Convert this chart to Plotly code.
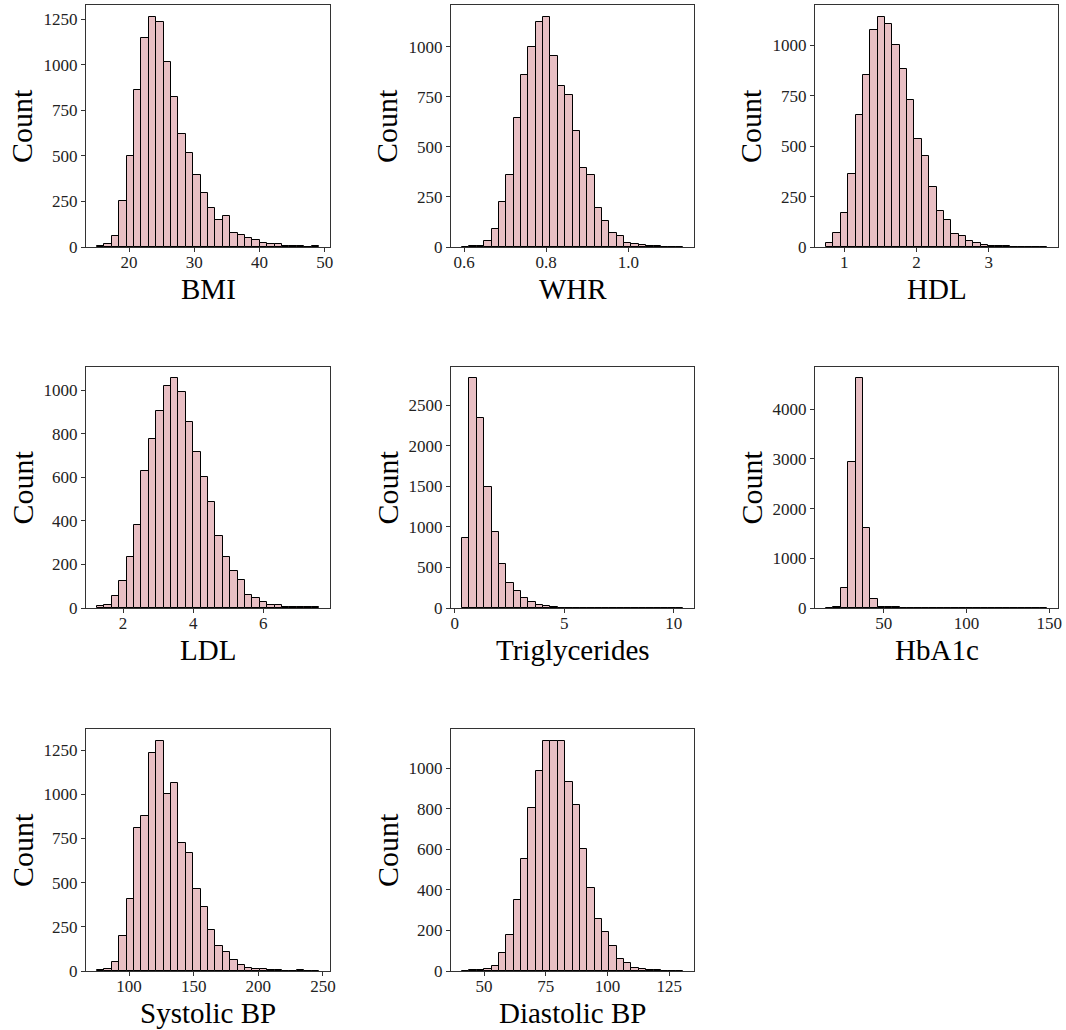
import plotly.graph_objects as go
import numpy as np

# ---- data: 30-bin histogram counts, with the bin range (lo, hi) for each variable ----
bmi_range = (15.1, 49.1)
bmi_counts = [4, 17, 60, 250, 500, 862, 1149, 1266, 1237, 1016, 822, 619, 518, 395, 294,
              213, 151, 171, 79, 68, 51, 37, 24, 15, 18, 7, 6, 4, 2, 3]

whr_range = (0.595, 1.133)
whr_counts = [2, 3, 7, 30, 92, 224, 360, 644, 856, 1000, 1124, 1150, 953, 804, 759,
              577, 393, 360, 197, 132, 72, 57, 20, 17, 12, 7, 3, 2, 2, 2]

hdl_range = (0.746, 3.808)
hdl_counts = [20, 71, 171, 360, 654, 855, 1078, 1144, 1106, 1003, 884, 732, 538, 450, 297,
              181, 133, 66, 56, 28, 20, 8, 6, 5, 3, 2, 2, 1, 2, 2]

ldl_range = (1.257, 7.59)
ldl_counts = [8, 14, 57, 123, 233, 380, 632, 778, 907, 1020, 1055, 993, 857, 719, 603,
              485, 331, 233, 172, 127, 61, 45, 29, 12, 15, 6, 5, 3, 3, 3]

tg_range = (0.334, 10.42)
tg_counts = [868, 2829, 2348, 1489, 942, 539, 308, 214, 127, 70, 37, 21, 14, 6, 5,
             4, 3, 2, 2, 1, 1, 1, 1, 1, 1, 0, 1, 0, 0, 1]

hba_range = (15.2, 148.6)
hba_counts = [5, 25, 409, 2935, 4616, 1601, 188, 27, 12, 12, 8, 6, 5, 3, 3,
              2, 2, 2, 1, 1, 1, 1, 1, 1, 0, 1, 0, 0, 0, 1]

sbp_range = (75.3, 246.9)
sbp_counts = [4, 13, 53, 200, 409, 808, 878, 1235, 1305, 1005, 1064, 726, 667, 467, 361,
              234, 144, 105, 61, 36, 17, 13, 9, 4, 3, 2, 2, 3, 2, 2]

dbp_range = (41.1, 130.6)
dbp_counts = [1, 3, 5, 12, 23, 89, 177, 349, 552, 802, 985, 1136, 1137, 1134, 931,
              818, 603, 408, 256, 192, 124, 58, 38, 17, 10, 5, 3, 2, 2, 2]

labels = ["BMI", "WHR", "HDL", "LDL", "Triglycerides", "HbA1c", "Systolic BP", "Diastolic BP"]

# x tick values, y tick step per panel
x_ticks = [[20, 30, 40, 50], [0.6, 0.8, 1.0], [1, 2, 3], [2, 4, 6], [0, 5, 10],
           [50, 100, 150], [100, 150, 200, 250], [50, 75, 100, 125]]
y_steps = [250, 250, 250, 200, 500, 1000, 250, 200]

panels = [
    (bmi_range, bmi_counts), (whr_range, whr_counts), (hdl_range, hdl_counts),
    (ldl_range, ldl_counts), (tg_range, tg_counts), (hba_range, hba_counts),
    (sbp_range, sbp_counts), (dbp_range, dbp_counts),
]

# ---- layout geometry (pixels of the 1066x1030 picture) ----
W, H = 1066, 1030
col_px = [(86, 330), (451, 694), (815, 1058)]
row_px = [(5, 247), (367, 608), (729, 971)]

FILL = "#e8bfc4"
FONT = "Liberation Serif"

fig = go.Figure()
annotations = []
layout_axes = {}

for i, ((lo, hi), counts) in enumerate(panels):
    r, c = divmod(i, 3)
    n = len(counts)
    edges = np.linspace(lo, hi, n + 1)
    centers = (edges[:-1] + edges[1:]) / 2
    bw = (hi - lo) / n
    ax = "" if i == 0 else str(i + 1)
    fig.add_trace(go.Bar(
        x=centers, y=counts, width=bw,
        marker=dict(color=FILL, line=dict(color="black", width=1)),
        xaxis="x" + ax, yaxis="y" + ax, showlegend=False,
        hoverinfo="x+y",
    ))
    x0, x1 = col_px[c]
    yt, yb = row_px[r]
    span = hi - lo
    xr = [lo - 0.05 * span, hi + 0.05 * span]
    yr = [0, 1.05 * max(counts)]
    common = dict(showgrid=False, zeroline=False, showline=True, mirror=True,
                  linecolor="#333333", linewidth=1, ticks="outside", ticklen=4,
                  tickwidth=1, tickcolor="#333333",
                  tickfont=dict(family=FONT, size=17, color="#222222"))
    xa = dict(domain=[x0 / W, x1 / W], range=xr, anchor="y" + ax,
              tickmode="array", tickvals=x_ticks[i], ticklabelstandoff=-4, **common)
    if i == 1:
        xa["tickformat"] = ".1f"
    ya = dict(domain=[1 - yb / H, 1 - yt / H], range=yr, anchor="x" + ax,
              tick0=0, dtick=y_steps[i], **common)
    layout_axes["xaxis" + ax] = xa
    layout_axes["yaxis" + ax] = ya

    # axis labels
    annotations.append(dict(text=labels[i], xref="paper", yref="paper",
                            x=(x0 + x1) / 2 / W, y=1 - (yb + 42) / H,
                            xanchor="center", yanchor="middle", showarrow=False,
                            font=dict(family=FONT, size=29, color="black")))
    annotations.append(dict(text="Count", xref="paper", yref="paper",
                            x=(x0 - 64) / W, y=1 - (yt + yb) / 2 / H,
                            xanchor="center", yanchor="middle", textangle=-90,
                            showarrow=False,
                            font=dict(family=FONT, size=30, color="black")))

fig.update_layout(
    autosize=True,
    margin=dict(l=0, r=0, t=0, b=0, autoexpand=False),
    paper_bgcolor="white", plot_bgcolor="white",
    bargap=0, annotations=annotations,
    **layout_axes,
)

post = ("document.documentElement.style.margin='0';"
        "document.body.style.margin='0';"
        "document.body.style.overflow='hidden';"
        "document.documentElement.style.overflow='hidden';"
        "Plotly.Plots.resize(document.getElementById('{plot_id}'));")

fig.write_html("out.html",
               config={"displayModeBar": False, "responsive": True},
               default_width="100vw", default_height="100vh",
               post_script=post)
